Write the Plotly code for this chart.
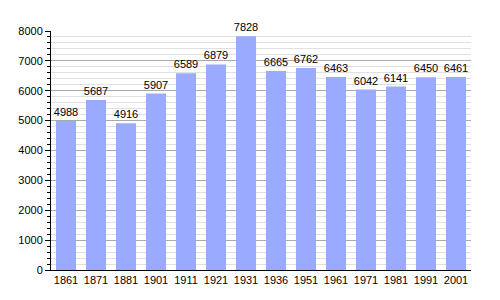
import plotly.graph_objects as go

years = ["1861", "1871", "1881", "1901", "1911", "1921", "1931", "1936", "1951", "1961", "1971", "1981", "1991", "2001"]
population = [4988, 5687, 4916, 5907, 6589, 6879, 7828, 6665, 6762, 6463, 6042, 6141, 6450, 6461]

fig = go.Figure(go.Bar(
    x=years, y=population,
    text=[str(v) for v in population],
    textposition="outside",
    constraintext="none",
    textfont=dict(color="black", size=11, family="Liberation Sans"),
    marker=dict(color="#99aaff", line=dict(width=0)),
    cliponaxis=False,
))

fig.update_layout(
    width=500, height=300,
    margin=dict(l=51, r=29, t=31, b=30),
    paper_bgcolor="white", plot_bgcolor="white",
    bargap=0.33,
    showlegend=False,
    font=dict(family="Liberation Sans", size=11, color="black"),
)
fig.update_xaxes(
    type="category", showline=True, linecolor="black", linewidth=1,
    ticks="", tickfont=dict(size=11), showgrid=False,
)
fig.update_yaxes(
    range=[0, 8000], dtick=1000, showline=True, linecolor="black", linewidth=1,
    ticks="outside", ticklen=5, tickcolor="black",
    showgrid=True, gridcolor="#aaaaaa", gridwidth=1,
    zeroline=False,
    minor=dict(dtick=200, showgrid=True, gridcolor="#e0e0e0", ticks="outside", ticklen=3, tickcolor="black"),
    tickfont=dict(size=11),
)

fig.write_html("out.html")
